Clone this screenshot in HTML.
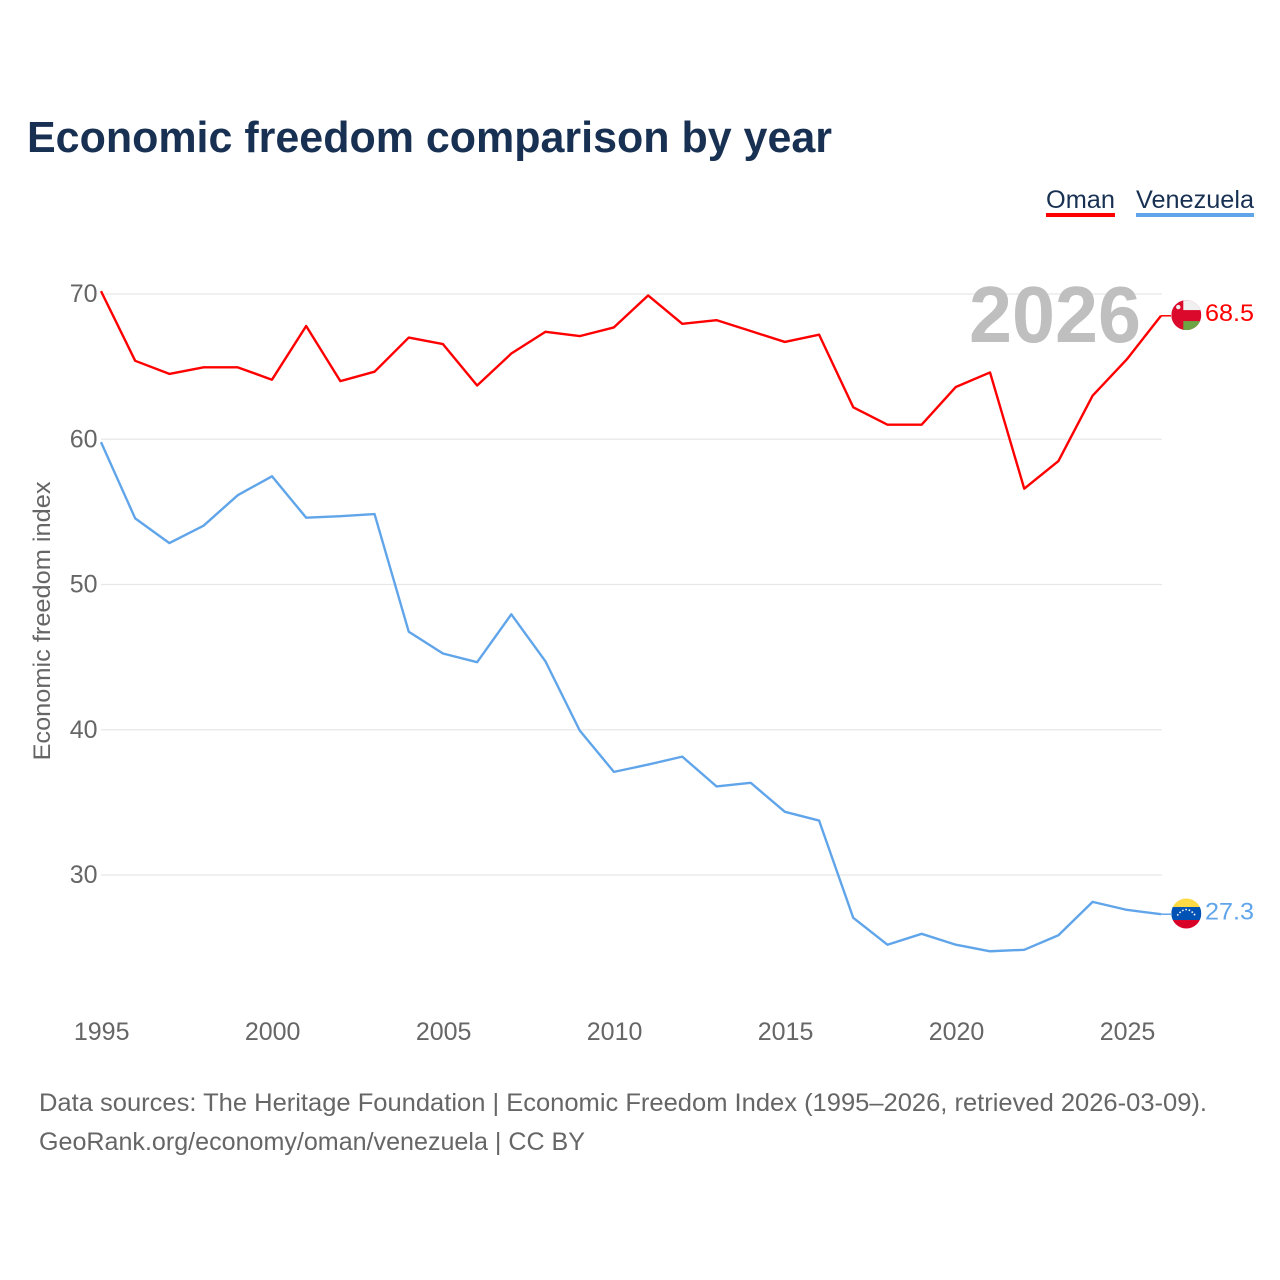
<!DOCTYPE html>
<html>
<head>
<meta charset="utf-8">
<style>
html,body{margin:0;padding:0;background:#fff;}
svg{display:block;}
text{font-family:"Liberation Sans",sans-serif;}
</style>
</head>
<body>
<svg id="chart" width="1280" height="1280" viewBox="0 0 1280 1280" xmlns="http://www.w3.org/2000/svg">
  <defs>
    <clipPath id="clip-oman"><circle cx="0" cy="0" r="15"/></clipPath>
    <clipPath id="clip-ven"><circle cx="0" cy="0" r="15"/></clipPath>
  </defs>
  <rect x="0" y="0" width="1280" height="1280" fill="#fff"/>
  <text x="27" y="152" font-size="44" font-weight="700" fill="#183153" textLength="805" lengthAdjust="spacingAndGlyphs">Economic freedom comparison by year</text>

  <g>
    <text x="1046" y="208" font-size="25" fill="#183153" textLength="69" lengthAdjust="spacingAndGlyphs">Oman</text>
    <rect x="1046" y="213" width="69" height="4" fill="#ff0000"/>
  </g>
  <g>
    <text x="1136" y="208" font-size="25" fill="#183153" textLength="118" lengthAdjust="spacingAndGlyphs">Venezuela</text>
    <rect x="1136" y="213" width="118" height="4" fill="#60a5ea"/>
  </g>

  <g id="grid"></g>
  <g id="ytick-labels"></g>
  <g id="xtick-labels"></g>
  <text transform="translate(50,621) rotate(-90)" text-anchor="middle" font-size="24" fill="#666" textLength="279" lengthAdjust="spacingAndGlyphs">Economic freedom index</text>

  <text x="1141" y="342" text-anchor="end" font-size="80" font-weight="700" fill="#bfbfbf" textLength="172" lengthAdjust="spacingAndGlyphs">2026</text>

  <g id="series"></g>

  <g id="flag-oman">
    <g clip-path="url(#clip-oman)">
      <rect x="-15" y="-15" width="30" height="30" fill="#db0a2d"/>
      <rect x="-3" y="-15" width="18" height="10" fill="#f0f0f0"/>
      <rect x="-3" y="6" width="18" height="9" fill="#6da544"/>
      <circle cx="-8" cy="-8" r="2.2" fill="#f0f0f0"/>
    </g>
  </g>
  <g id="flag-venezuela">
    <g clip-path="url(#clip-ven)">
      <rect x="-15" y="-15" width="30" height="9" fill="#ffda44"/>
      <rect x="-15" y="-6.5" width="30" height="13" fill="#0052b4"/>
      <rect x="-15" y="6.5" width="30" height="9" fill="#d80027"/>
      <path d="M-9 2 Q0 -10 9 2" fill="none" stroke="#f0f0f0" stroke-width="1.6" stroke-dasharray="1.6 1.8"/>
    </g>
  </g>
  <text id="end-label-oman" x="1205" y="321" font-size="24" fill="#ff0000" textLength="49" lengthAdjust="spacingAndGlyphs"></text>
  <text id="end-label-venezuela" x="1205" y="920" font-size="24" fill="#60a5ea" textLength="49" lengthAdjust="spacingAndGlyphs"></text>

  <text x="39" y="1111" font-size="25" fill="#666" textLength="1168" lengthAdjust="spacingAndGlyphs">Data sources: The Heritage Foundation | Economic Freedom Index (1995–2026, retrieved 2026-03-09).</text>
  <text x="39" y="1150" font-size="25" fill="#666" textLength="546" lengthAdjust="spacingAndGlyphs">GeoRank.org/economy/oman/venezuela | CC BY</text>
</svg>
<script>
const years = [1995,1996,1997,1998,1999,2000,2001,2002,2003,2004,2005,2006,2007,2008,2009,2010,2011,2012,2013,2014,2015,2016,2017,2018,2019,2020,2021,2022,2023,2024,2025,2026];
const omanValues = [70.2,65.4,64.5,64.95,64.95,64.1,67.8,64.0,64.65,67.0,66.55,63.7,65.9,67.4,67.1,67.7,69.9,67.95,68.2,67.45,66.7,67.2,62.2,61.0,61.0,63.6,64.6,56.6,58.5,63.0,65.5,68.5];
const venezuelaValues = [59.8,54.55,52.85,54.05,56.15,57.45,54.6,54.7,54.85,46.75,45.25,44.65,47.95,44.7,39.95,37.1,37.6,38.15,36.1,36.35,34.35,33.75,27.05,25.2,25.95,25.2,24.75,24.85,25.85,28.15,27.6,27.3];
const yTicks = [30,40,50,60,70];
const xTicks = [1995,2000,2005,2010,2015,2020,2025];

const NS = 'http://www.w3.org/2000/svg';
function xScale(year){ return 101 + (year - 1995) * (1161 - 101) / 31; }
function yScale(value){ return 875 - (value - 30) * (875 - 294) / 40; }

const grid = document.getElementById('grid');
const yLabels = document.getElementById('ytick-labels');
const xLabels = document.getElementById('xtick-labels');

yTicks.forEach(function(t){
  const line = document.createElementNS(NS, 'line');
  
  
  line.setAttribute('x1', 101);
  line.setAttribute('x2', 1162);
  line.setAttribute('y1', yScale(t));
  line.setAttribute('y2', yScale(t));
  line.setAttribute('stroke', '#e8e8e8');
  line.setAttribute('stroke-width', '1.3');
  grid.appendChild(line);

  const label = document.createElementNS(NS, 'text');
  
  
  label.setAttribute('x', 97.5);
  label.setAttribute('y', yScale(t) + 8);
  label.setAttribute('text-anchor', 'end');
  label.setAttribute('font-size', '25');
  label.setAttribute('fill', '#666');
  label.textContent = t;
  yLabels.appendChild(label);
});

xTicks.forEach(function(t){
  const label = document.createElementNS(NS, 'text');
  
  
  label.setAttribute('x', xScale(t) + 0.7);
  label.setAttribute('y', 1040);
  label.setAttribute('text-anchor', 'middle');
  label.setAttribute('font-size', '25');
  label.setAttribute('fill', '#666');
  label.textContent = t;
  xLabels.appendChild(label);
});

function toPoints(values){
  return values.map(function(v, i){ return xScale(years[i]).toFixed(2) + ',' + yScale(v).toFixed(2); }).join(' ');
}

const seriesGroup = document.getElementById('series');

const omanLine = document.createElementNS(NS, 'polyline');


omanLine.setAttribute('points', toPoints(omanValues));
omanLine.setAttribute('fill', 'none');
omanLine.setAttribute('stroke', '#ff0000');
omanLine.setAttribute('stroke-width', '2.4');
omanLine.setAttribute('stroke-linejoin', 'round');
seriesGroup.appendChild(omanLine);

const venLine = document.createElementNS(NS, 'polyline');


venLine.setAttribute('points', toPoints(venezuelaValues));
venLine.setAttribute('fill', 'none');
venLine.setAttribute('stroke', '#60a5ea');
venLine.setAttribute('stroke-width', '2.4');
venLine.setAttribute('stroke-linejoin', 'round');
seriesGroup.appendChild(venLine);

const lastOman = omanValues[omanValues.length - 1];
const lastVen = venezuelaValues[venezuelaValues.length - 1];
const lastX = xScale(years[years.length - 1]);

const omanStub = document.createElementNS(NS, 'line');


omanStub.setAttribute('x1', lastX);
omanStub.setAttribute('x2', lastX + 10);
omanStub.setAttribute('y1', yScale(lastOman));
omanStub.setAttribute('y2', yScale(lastOman));
omanStub.setAttribute('stroke', '#ff0000');
omanStub.setAttribute('stroke-width', '1.5');
seriesGroup.appendChild(omanStub);

const venStub = document.createElementNS(NS, 'line');


venStub.setAttribute('x1', lastX);
venStub.setAttribute('x2', lastX + 10);
venStub.setAttribute('y1', yScale(lastVen));
venStub.setAttribute('y2', yScale(lastVen));
venStub.setAttribute('stroke', '#60a5ea');
venStub.setAttribute('stroke-width', '1.5');
seriesGroup.appendChild(venStub);

document.getElementById('flag-oman').setAttribute('transform', 'translate(1186.3,' + (yScale(lastOman) - 0.7).toFixed(2) + ')');
document.getElementById('flag-venezuela').setAttribute('transform', 'translate(1186.3,' + (yScale(lastVen) - 0.7).toFixed(2) + ')');

const omanEnd = document.getElementById('end-label-oman');
omanEnd.textContent = lastOman.toFixed(1);
omanEnd.setAttribute('y', yScale(lastOman) + 5.2);
const venEnd = document.getElementById('end-label-venezuela');
venEnd.textContent = lastVen.toFixed(1);
venEnd.setAttribute('y', yScale(lastVen) + 5.2);
</script>
</body>
</html>
